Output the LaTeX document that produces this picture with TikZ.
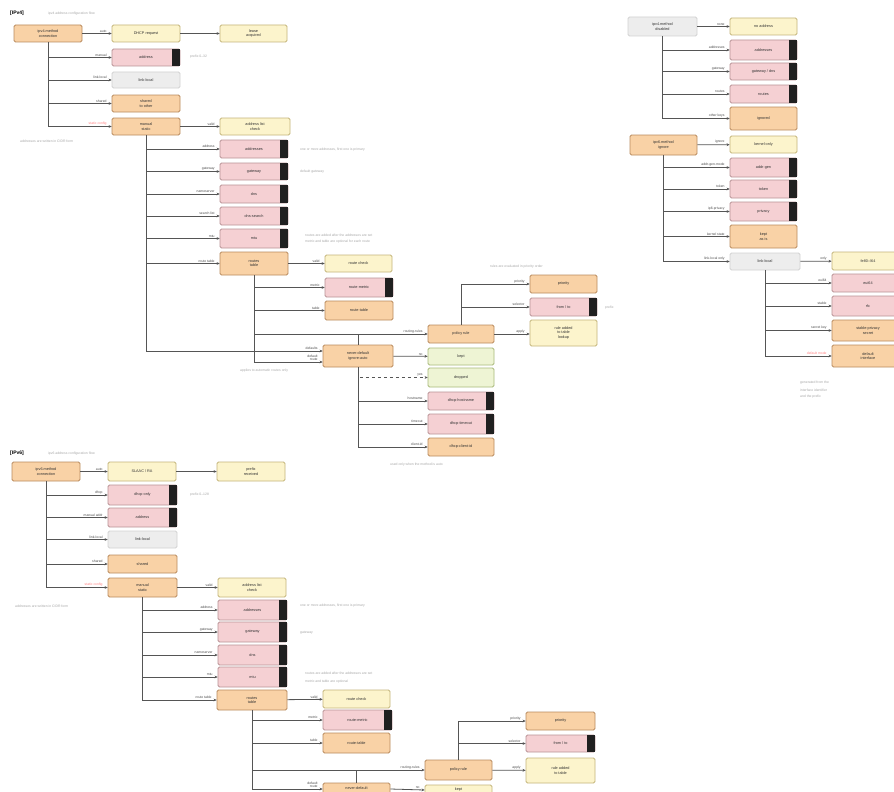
\documentclass[tikz,border=0pt]{standalone}
\usepackage{fontspec}
\setmainfont{Liberation Sans}
\usetikzlibrary{arrows.meta}
\definecolor{ofill}{HTML}{F9D2A6}\definecolor{oline}{HTML}{B98B5E}
\definecolor{yfill}{HTML}{FCF4CC}\definecolor{yline}{HTML}{C4B57A}
\definecolor{pfill}{HTML}{F5D0D3}\definecolor{pline}{HTML}{B99396}
\definecolor{gfill}{HTML}{EDEDED}\definecolor{gline}{HTML}{D2D2D2}
\definecolor{lfill}{HTML}{EEF4D4}\definecolor{lline}{HTML}{A9B97A}
\definecolor{wire}{HTML}{555555}\definecolor{note}{HTML}{A8A8A8}
\definecolor{tabc}{HTML}{202020}
\tikzset{
  box/.style={draw, rounded corners=1.5pt, line width=0.8pt, inner sep=0pt, align=center,
    font=\fontsize{3.8}{4.4}\selectfont, text=black!80},
  ob/.style={box, fill=ofill, draw=oline},
  yb/.style={box, fill=yfill, draw=yline},
  pb/.style={box, fill=pfill, draw=pline},
  gb/.style={box, fill=gfill, draw=gline},
  lb/.style={box, fill=lfill, draw=lline},
  arr/.style={draw=wire, line width=0.8pt, -{Stealth[length=3pt,width=2.8pt]}},
  ln/.style={draw=wire, line width=0.8pt},
  elab/.style={font=\fontsize{3.4}{3.8}\selectfont, text=black!70, anchor=south east, pos=1,
    xshift=-4pt, inner sep=0.6pt, align=right},
  notes/.style={font=\fontsize{3.4}{4.4}\selectfont, text=note, anchor=west, inner sep=0pt, align=left},
  boxtext/.style={font=\fontsize{3.8}{4.4}\selectfont, text=black!80, inner sep=0pt},
  ttl/.style={font=\bfseries\fontsize{5}{6}\selectfont, anchor=west, inner sep=0pt},
}
% box from corner (x1,y1) to corner (x2,y2)
\newcommand\bx[7]{\node[#1, minimum width={(#5-#3)*1pt}, minimum height={(#6-#4)*1pt}] (#2) at ({(#3+#5)/2},{(#4+#6)/2}) {#7};}
% black key tab on the right end of a box
\newcommand\keytab[1]{\fill[tabc] ([xshift=-8pt]#1.north east) rectangle (#1.south east);}
\begin{document}
\begin{tikzpicture}[x=1pt,y=-1pt]
\fill[white] (0,0) rectangle (894,792);
\useasboundingbox (0,0) rectangle (894,792);

% ===================== IPv4 =====================
\node[ttl] (t1) at (10,13) {[IPv4]};
\node[notes] (t1n) at (48,14) {ipv4 address configuration flow};
\bx{ob}{a1}{14}{25}{82}{42}{ipv4.method\\connection}
\bx{yb}{b1}{112}{25}{180}{42}{DHCP request}
\bx{yb}{c1}{220}{25}{287}{42}{lease\\acquired}
\draw[arr] (a1) -- node[elab]{auto} (b1);
\draw[arr] (b1) -- (c1);
\bx{pb}{d1}{112}{49}{180}{66}{address}\keytab{d1}
\bx{gb}{e1}{112}{72}{180}{88}{link-local}
\bx{ob}{f1}{112}{95}{180}{112}{shared\\to other}
\bx{ob}{g1}{112}{118}{180}{135}{manual\\static}
\bx{yb}{h1}{220}{118}{290}{135}{address list\\check}
\draw[arr] (a1.south) |- node[elab]{manual} (d1.west);
\draw[arr] (a1.south) |- node[elab]{link-local} (e1.west);
\draw[arr] (a1.south) |- node[elab]{shared} (f1.west);
\draw[arr] (a1.south) |- node[elab, text=red!50]{static config} (g1.west);
\draw[arr] (g1) -- node[elab]{valid} (h1);
\node[notes] (n1a) at (20,141) {addresses are written in CIDR form};
\node[notes] (n1b) at (190,57) {prefix 0--32};

\bx{pb}{p1a}{220}{140}{288}{158}{addresses}\keytab{p1a}
\bx{pb}{p1b}{220}{163}{288}{180}{gateway}\keytab{p1b}
\bx{pb}{p1c}{220}{185}{288}{203}{dns}\keytab{p1c}
\bx{pb}{p1d}{220}{207}{288}{225}{dns-search}\keytab{p1d}
\bx{pb}{p1e}{220}{229}{288}{248}{mtu}\keytab{p1e}
\bx{ob}{i1}{220}{252}{288}{275}{routes\\table}
\draw[arr] (g1.south) |- node[elab]{address} (p1a.west);
\draw[arr] (g1.south) |- node[elab]{gateway} (p1b.west);
\draw[arr] (g1.south) |- node[elab]{nameserver} (p1c.west);
\draw[arr] (g1.south) |- node[elab]{search list} (p1d.west);
\draw[arr] (g1.south) |- node[elab]{mtu} (p1e.west);
\draw[arr] (g1.south) |- node[elab]{route table} (i1.west);
\node[notes] (n1c) at (300,150) {one or more addresses, first one is primary};
\node[notes] (n1d) at (300,172) {default gateway};
\node[notes] (n1e) at (305,235) {routes are added after the addresses are set};
\node[notes] (n1f) at (305,242) {metric and table are optional for each route};

\bx{yb}{j1}{325}{255}{392}{272}{route check}
\bx{pb}{k1}{325}{278}{393}{297}{route-metric}\keytab{k1}
\bx{ob}{l1}{325}{301}{393}{320}{route-table}
\bx{ob}{m1}{428}{325}{494}{343}{policy rule}
\bx{ob}{nn1}{323}{345}{393}{367}{never-default\\ignore-auto}
\draw[arr] (i1) -- node[elab]{valid} (j1);
\draw[arr] (i1.south) |- node[elab]{metric} (k1.west);
\draw[arr] (i1.south) |- node[elab]{table} (l1.west);
\draw[arr] (i1.south) |- node[elab]{routing-rules} (m1.west);
\draw[arr] (i1.south) |- node[elab]{default\\route} ([yshift=-6pt]nn1.west);
\draw[arr] (g1.south) |- node[elab]{defaults} ([yshift=5pt]nn1.west);
\draw[ln] (nn1.north) -- (nn1.north |- m1.west);
\node[notes] (n1g) at (240,371) {applies to automatic routes only};

\bx{lb}{o1}{428}{348}{494}{365}{kept}
\bx{lb}{q1}{428}{368}{494}{387}{dropped}
\bx{pb}{r1}{428}{392}{494}{410}{dhcp-hostname}\keytab{r1}
\bx{pb}{s1}{428}{414}{494}{434}{dhcp-timeout}\keytab{s1}
\bx{ob}{u1}{428}{438}{494}{456}{dhcp-client-id}
\draw[arr] (nn1) -- node[elab]{no} (o1);
\draw[arr, dashed] (nn1.south) |- node[elab]{yes} (q1.west);
\draw[arr] (nn1.south) |- node[elab]{hostname} (r1.west);
\draw[arr] (nn1.south) |- node[elab]{timeout} (s1.west);
\draw[arr] (nn1.south) |- node[elab]{client-id} (u1.west);
\node[notes] (n1h) at (390,465) {used only when the method is auto};

\bx{ob}{v1}{530}{275}{597}{293}{priority}
\bx{pb}{w1}{530}{298}{597}{316}{from / to}\keytab{w1}
\bx{yb}{x1}{530}{320}{597}{346}{rule added\\to table\\lookup}
\draw[arr] (m1.north) |- node[elab]{priority} (v1.west);
\draw[arr] (m1.north) |- node[elab]{selector} (w1.west);
\draw[arr] (m1) -- node[elab]{apply} ([yshift=-1pt]x1.west);
\node[notes] (n1i) at (490,267) {rules are evaluated in priority order};
\node[notes] (n1j) at (605,308) {prefix};

% ===================== disabled / ignore =====================
\bx{gb}{a2}{628}{17}{697}{36}{ipv4.method\\disabled}
\bx{yb}{b2}{730}{18}{797}{35}{no address}
\draw[arr] (a2) -- node[elab]{none} (b2);
\bx{pb}{c2}{730}{40}{797}{60}{addresses}\keytab{c2}
\bx{pb}{d2}{730}{63}{797}{80}{gateway / dns}\keytab{d2}
\bx{pb}{e2}{730}{85}{797}{103}{routes}\keytab{e2}
\bx{ob}{f2}{730}{107}{797}{130}{ignored}
\draw[arr] (a2.south) |- node[elab]{addresses} (c2.west);
\draw[arr] (a2.south) |- node[elab]{gateway} (d2.west);
\draw[arr] (a2.south) |- node[elab]{routes} (e2.west);
\draw[arr] (a2.south) |- node[elab]{other keys} (f2.west);

\bx{ob}{g2}{630}{135}{697}{155}{ipv6.method\\ignore}
\bx{yb}{h2}{730}{136}{797}{153}{kernel only}
\draw[arr] (g2) -- node[elab]{ignore} (h2);
\bx{pb}{i2}{730}{158}{797}{177}{addr-gen}\keytab{i2}
\bx{pb}{j2}{730}{180}{797}{198}{token}\keytab{j2}
\bx{pb}{k2}{730}{202}{797}{221}{privacy}\keytab{k2}
\bx{ob}{l2}{730}{225}{797}{248}{kept\\as is}
\bx{gb}{m2}{730}{253}{800}{270}{link-local}
\draw[arr] (g2.south) |- node[elab]{addr-gen-mode} (i2.west);
\draw[arr] (g2.south) |- node[elab]{token} (j2.west);
\draw[arr] (g2.south) |- node[elab]{ip6-privacy} (k2.west);
\draw[arr] (g2.south) |- node[elab]{kernel state} (l2.west);
\draw[arr] (g2.south) |- node[elab]{link-local only} (m2.west);
\bx{yb}{n2}{832}{252}{904}{270}{fe80::/64}
\draw[arr] (m2) -- node[elab]{only} (n2);
\bx{pb}{o2}{832}{274}{904}{292}{eui64}
\bx{pb}{p2}{832}{296}{904}{316}{rfc}
\bx{ob}{q2}{832}{320}{904}{341}{stable-privacy\\secret}
\bx{ob}{r2}{832}{345}{904}{367}{default\\interface}
\draw[arr] (m2.south) |- node[elab]{eui64} (o2.west);
\draw[arr] (m2.south) |- node[elab]{stable} (p2.west);
\draw[arr] (m2.south) |- node[elab]{secret key} (q2.west);
\draw[arr] (m2.south) |- node[elab, text=red!50]{default mode} (r2.west);
\node[notes] (n2a) at (800,383) {generated from the};
\node[notes] (n2b) at (800,390) {interface identifier};
\node[notes] (n2c) at (800,397) {and the prefix};

% ===================== IPv6 =====================
\node[ttl] (t3) at (10,453) {[IPv6]};
\node[notes] (t3n) at (48,454) {ipv6 address configuration flow};
\bx{ob}{a3}{12}{462}{80}{481}{ipv6.method\\connection}
\bx{yb}{b3}{108}{462}{176}{481}{SLAAC / RA}
\bx{yb}{c3}{217}{462}{285}{481}{prefix\\received}
\draw[arr] (a3) -- node[elab]{auto} (b3);
\draw[arr] (b3) -- (c3);
\bx{pb}{d3}{108}{485}{177}{505}{dhcp only}\keytab{d3}
\bx{pb}{e3}{108}{508}{177}{527}{address}\keytab{e3}
\bx{gb}{f3}{108}{531}{177}{548}{link-local}
\bx{ob}{g3}{108}{555}{177}{573}{shared}
\bx{ob}{h3}{108}{578}{177}{597}{manual\\static}
\bx{yb}{i3}{218}{578}{286}{597}{address list\\check}
\draw[arr] (a3.south) |- node[elab]{dhcp} (d3.west);
\draw[arr] (a3.south) |- node[elab]{manual addr} (e3.west);
\draw[arr] (a3.south) |- node[elab]{link-local} (f3.west);
\draw[arr] (a3.south) |- node[elab]{shared} (g3.west);
\draw[arr] (a3.south) |- node[elab, text=red!50]{static config} (h3.west);
\draw[arr] (h3) -- node[elab]{valid} (i3);
\node[notes] (n3a) at (15,606) {addresses are written in CIDR form};
\node[notes] (n3b) at (190,495) {prefix 0--128};

\bx{pb}{p3a}{218}{600}{287}{620}{addresses}\keytab{p3a}
\bx{pb}{p3b}{218}{622}{287}{642}{gateway}\keytab{p3b}
\bx{pb}{p3c}{218}{645}{287}{665}{dns}\keytab{p3c}
\bx{pb}{p3d}{218}{667}{287}{687}{mtu}\keytab{p3d}
\bx{ob}{j3}{217}{690}{287}{710}{routes\\table}
\draw[arr] (h3.south) |- node[elab]{address} (p3a.west);
\draw[arr] (h3.south) |- node[elab]{gateway} (p3b.west);
\draw[arr] (h3.south) |- node[elab]{nameserver} (p3c.west);
\draw[arr] (h3.south) |- node[elab]{mtu} (p3d.west);
\draw[arr] (h3.south) |- node[elab]{route table} (j3.west);
\node[notes] (n3c) at (300,606) {one or more addresses, first one is primary};
\node[notes] (n3d) at (300,633) {gateway};
\node[notes] (n3e) at (305,673) {routes are added after the addresses are set};
\node[notes] (n3f) at (305,682) {metric and table are optional};

\bx{yb}{k3}{323}{690}{390}{708}{route check}
\bx{pb}{l3}{323}{710}{392}{730}{route-metric}\keytab{l3}
\bx{ob}{m3}{323}{733}{390}{753}{route-table}
\bx{ob}{q3}{425}{760}{492}{780}{policy rule}
\bx{ob}{r3}{323}{783}{390}{805}{}
\node[boxtext] (r3t) at (356.5,788.5) {never-default};
\bx{yb}{s3}{425}{785}{492}{805}{}
\node[boxtext] (s3t) at (458.5,789.5) {kept};
\draw[arr] (j3) -- node[elab]{valid} (k3);
\draw[arr] (j3.south) |- node[elab]{metric} (l3.west);
\draw[arr] (j3.south) |- node[elab]{table} (m3.west);
\draw[arr] (j3.south) |- node[elab]{routing-rules} (q3.west);
\draw[arr] (j3.south) |- node[elab]{default\\route} ([yshift=5pt]r3.west);
\draw[ln] (r3.north) -- (r3.north |- q3.west);
\draw[arr] ([yshift=5pt]r3.east) -- node[elab]{no} ([yshift=5pt]s3.west);

\bx{ob}{t3a}{526}{712}{595}{730}{priority}
\bx{pb}{u3}{526}{735}{595}{752}{from / to}\keytab{u3}
\bx{yb}{v3}{526}{758}{595}{783}{rule added\\to table}
\draw[arr] (q3.north) |- node[elab]{priority} (t3a.west);
\draw[arr] (q3.north) |- node[elab]{selector} (u3.west);
\draw[arr] (q3) -- node[elab]{apply} (v3);
\end{tikzpicture}
\end{document}
